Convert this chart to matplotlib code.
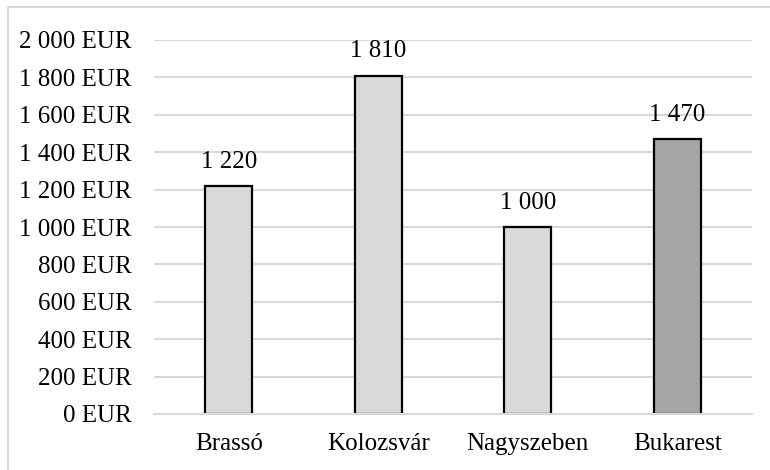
import matplotlib.pyplot as plt
from matplotlib.patches import Rectangle
from matplotlib.ticker import FuncFormatter

varosok = ['Brassó', 'Kolozsvár', 'Nagyszeben', 'Bukarest']
ertekek = [1220, 1810, 1000, 1470]
szinek = ['#D9D9D9', '#D9D9D9', '#D9D9D9', '#A6A6A6']

plt.rcParams['font.family'] = ['Liberation Serif', 'DejaVu Serif']

W, H = 770, 470
fig = plt.figure(figsize=(W / 100, H / 100), dpi=100)
ax = fig.add_axes([154 / W, 1 - 414 / H, (752 - 154) / W, (414 - 40) / H])

# keret a diagram körül
fig.patches.append(Rectangle((8 / W, -0.1), 1.2, 1 - 7 / H + 0.1,
                             transform=fig.transFigure, fill=False,
                             edgecolor='#D9D9D9', lw=1.5))

x = range(len(varosok))
oszlopok = ax.bar(x, ertekek, width=0.315, color=szinek,
                  edgecolor='black', linewidth=1.6, zorder=3)

for o, v in zip(oszlopok, ertekek):
    ax.annotate(f'{v:,}'.replace(',', ' '),
                (o.get_x() + o.get_width() / 2, v),
                xytext=(0, 17.5), textcoords='offset points',
                ha='center', va='center', fontsize=18)

ax.set_xlim(-0.5, len(varosok) - 0.5)
ax.set_ylim(0, 2000)
ax.set_yticks(range(0, 2001, 200))
ax.yaxis.set_major_formatter(
    FuncFormatter(lambda v, p: f'{int(v):,} EUR'.replace(',', ' ')))
ax.set_xticks(list(x))
ax.set_xticklabels(varosok)

ax.grid(axis='y', color='#D9D9D9', lw=1.5, zorder=0)
ax.tick_params(axis='both', length=0, labelsize=18, colors='black')
ax.tick_params(axis='y', pad=16)
ax.tick_params(axis='x', pad=14)
for s in ['top', 'right', 'left']:
    ax.spines[s].set_visible(False)
ax.spines['bottom'].set_color('#D9D9D9')
ax.spines['bottom'].set_linewidth(1.5)
ax.spines['bottom'].set_zorder(4)

fig.savefig('out.png', dpi=100)
